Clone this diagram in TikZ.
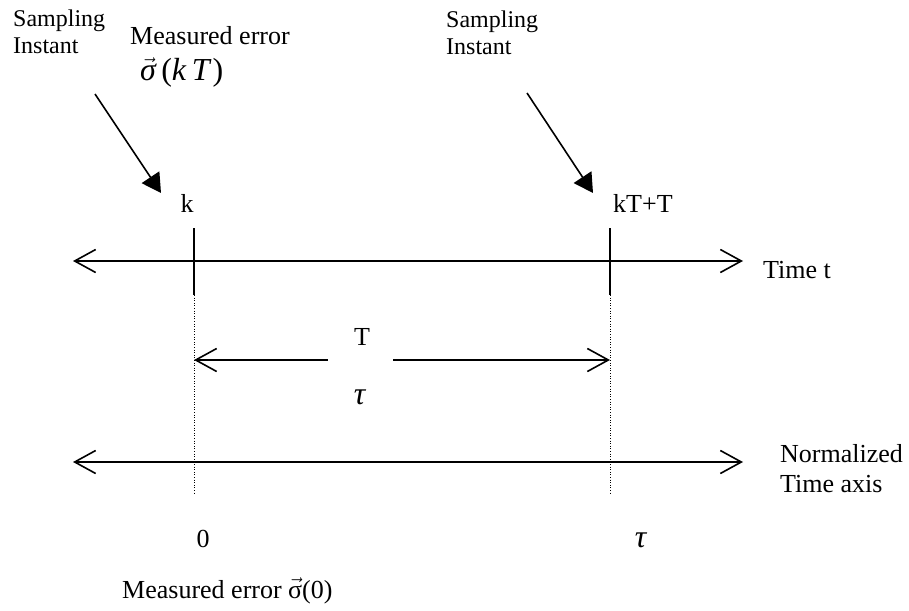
\documentclass[tikz,border=0pt]{standalone}
\usepackage{fontspec}
\setmainfont{Liberation Serif}
\usetikzlibrary{arrows.meta}
\tikzset{
  barb/.tip={Straight Barb[length=21pt,width=23pt,line width=1.6pt]},
  axisline/.style={line width=1.8pt,barb-barb},
  tickline/.style={line width=1.6pt},
  dotline/.style={line width=0.9pt,dash pattern=on 1pt off 1.6pt},
  ptr/.style={line width=1.6pt,-{Triangle[length=19pt,width=21pt]}},
  spanleft/.style={line width=1.8pt,barb-},
  spanright/.style={line width=1.8pt,-barb},
  smalltxt/.style={inner sep=0pt,font=\fontsize{24}{26.5}\selectfont,align=left},
  labtxt/.style={inner sep=0pt,font=\fontsize{26}{30}\selectfont,align=left},
  mathtxt/.style={inner sep=0pt,font=\fontsize{32}{36}\selectfont}
}
\newcommand{\vsig}[1]{$\vec{\hbox{#1σ}}$}
\begin{document}
\begin{tikzpicture}[x=1pt,y=-1pt]
\useasboundingbox (0,0) rectangle (909,610);
% top labels
\node[smalltxt,anchor=north west] (si1) at (13,10) {Sampling\\Instant};
\node[labtxt,anchor=base west] (me1) at (130,45) {Measured error};
\node[mathtxt,anchor=base west] (sk) at (140,81) {\vsig{\itshape}\,(\textit{k}\,\textit{T}\kern1pt)};
\node[smalltxt,anchor=north west] (si2) at (446,11) {Sampling\\Instant};
% pointer arrows
\coordinate (p1s) at (95,94);
\coordinate (p1e) at (161,193);
\coordinate (p2s) at (527,93);
\coordinate (p2e) at (593,193);
\draw[ptr] (p1s) -- (p1e);
\draw[ptr] (p2s) -- (p2e);
% tick labels
\node[labtxt,anchor=base] (k) at (187,212) {k};
\node[labtxt,anchor=base west] (kt) at (613,212) {kT+T};
% time axis
\coordinate (tl) at (73,261);
\coordinate (tr) at (743,261);
\draw[axisline] (tl) -- (tr);
\node[labtxt,anchor=base west] (tt) at (763,278) {Time t};
% ticks and dotted
\coordinate (a1) at (194,228);
\coordinate (b1) at (194,295);
\coordinate (c1) at (194,495);
\coordinate (a2) at (610,228);
\coordinate (b2) at (610,295);
\coordinate (c2) at (610,495);
\draw[tickline] (a1) -- (b1);
\draw[tickline] (a2) -- (b2);
\draw[dotline] (b1) -- (c1);
\draw[dotline] (b2) -- (c2);
% T span
\coordinate (s1) at (194,360);
\coordinate (g1) at (328,360);
\coordinate (g2) at (393,360);
\coordinate (s2) at (610,360);
\draw[spanleft] (s1) -- (g1);
\draw[spanright] (g2) -- (s2);
\node[labtxt,anchor=base] (Tl) at (362,345) {T};
\node[mathtxt,anchor=base] (tau1) at (360,404) {\textit{τ}};
% normalized axis
\coordinate (nl) at (73,462);
\coordinate (nr) at (743,462);
\draw[axisline] (nl) -- (nr);
\node[labtxt,anchor=north west] (na) at (780,444) {Normalized\\Time axis};
% bottom labels
\node[labtxt,anchor=base] (zero) at (203,547) {0};
\node[mathtxt,anchor=base] (tau2) at (641,547) {\textit{τ}};
\node[labtxt,anchor=base west] (me2) at (122,598) {Measured error \vsig{}(0)};
\end{tikzpicture}
\end{document}
